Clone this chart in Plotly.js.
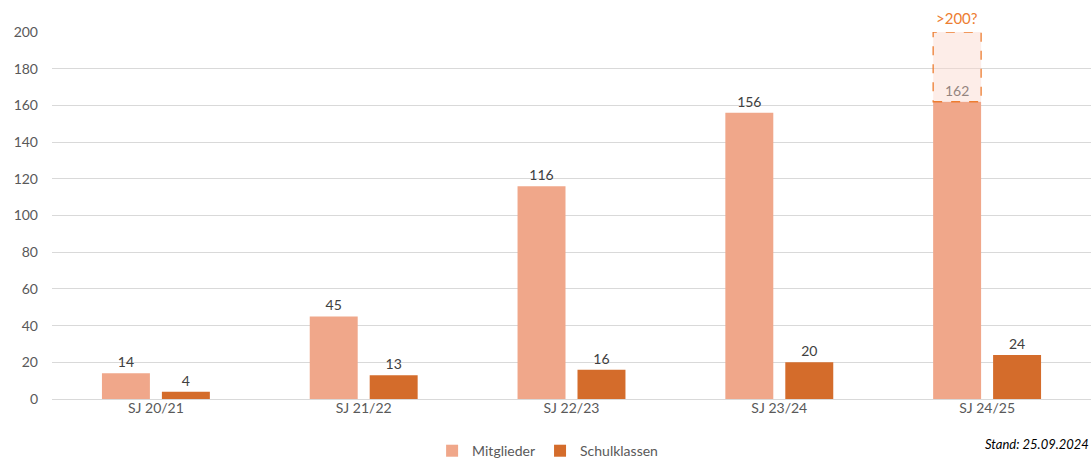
<!DOCTYPE html>
<html><head><meta charset="utf-8">
<script src="https://cdn.plot.ly/plotly-3.0.1.min.js"></script>
<style>html,body{margin:0;padding:0;background:#fff}#chart{width:1091px;height:462px}</style>
</head><body><div id="chart"></div>
<script>
const categories = ["SJ 20/21", "SJ 21/22", "SJ 22/23", "SJ 23/24", "SJ 24/25"];
const mitglieder = [14, 45, 116, 156, 162];
const schulklassen = [4, 13, 16, 20, 24];
const goalIndex = 4;
const goalValue = 200;
const goalLabel = ">200?";
const standText = "Stand: 25.09.2024";

const FONT = "Lato, 'Open Sans', sans-serif";
const barW = 48/208, grpGap = 12/208;
const off = -(2*barW + grpGap)/2;

const traces = [
  {type:'bar', name:'Mitglieder', x:categories, y:mitglieder,
   marker:{color:'#f0a78a'}, text:mitglieder.map(String), textposition:'outside',
   cliponaxis:false, textfont:{color:'#404040', size:14, family:FONT}, hoverinfo:'skip'},
  {type:'bar', name:'Schulklassen', x:categories, y:schulklassen,
   marker:{color:'#d46c2b'}, text:schulklassen.map(String), textposition:'outside',
   cliponaxis:false, textfont:{color:'#404040', size:14, family:FONT}, hoverinfo:'skip'},
  {type:'bar', name:'Ziel', showlegend:false, x:[categories[goalIndex]],
   y:[goalValue - mitglieder[goalIndex]], base:[mitglieder[goalIndex]],
   offset:off, width:barW, marker:{color:'rgba(250,215,205,0.45)', line:{width:0}},
   hoverinfo:'skip'}
];

const layout = {
  width:1091, height:462,
  margin:{l:51.5, r:0, t:32, b:63, autoexpand:false},
  paper_bgcolor:'#fff', plot_bgcolor:'#fff',
  barmode:'group', bargap:0.423, bargroupgap:0.2,
  showlegend:true,
  legend:{orientation:'h', x:0.477, xanchor:'center', y:-0.142, yanchor:'middle',
          font:{family:FONT, size:14, color:'#595959'}, itemwidth:30, tracegroupgap:0},
  font:{family:FONT, size:14, color:'#595959'},
  xaxis:{type:'category', showgrid:false, zeroline:false, showline:true, linecolor:'#d9d9d9', linewidth:1,
         ticks:'', tickfont:{family:FONT, size:14, color:'#595959'}, ticklabelstandoff:-4},
  yaxis:{range:[0,200], dtick:20, showgrid:true, gridcolor:'#d9d9d9', gridwidth:1,
         zeroline:true, zerolinecolor:'#d9d9d9', showline:false, ticks:'',
         tickfont:{family:FONT, size:14, color:'#595959'}, ticklabelstandoff:13},
  shapes:[{type:'rect', xref:'x', yref:'y', layer:'above',
           x0:goalIndex + off, x1:goalIndex + off + barW,
           y0:mitglieder[goalIndex], y1:goalValue,
           line:{color:'#ed7d31', width:1.3, dash:'dash'}, fillcolor:'rgba(0,0,0,0)'}],
  annotations:[
    {xref:'x', yref:'y', x:goalIndex + off + barW/2, y:goalValue, text:goalLabel,
     showarrow:false, yanchor:'bottom', yshift:3, font:{family:FONT, size:15, color:'#ed7d31'}},
    {xref:'paper', yref:'paper', x:1, xanchor:'right', y:-0.123, yanchor:'middle',
     text:'<i>'+standText+'</i>', showarrow:false, font:{family:FONT, size:13, color:'#000'}}
  ]
};
Plotly.newPlot('chart', traces, layout, {displayModeBar:false, staticPlot:true});
</script></body></html>
